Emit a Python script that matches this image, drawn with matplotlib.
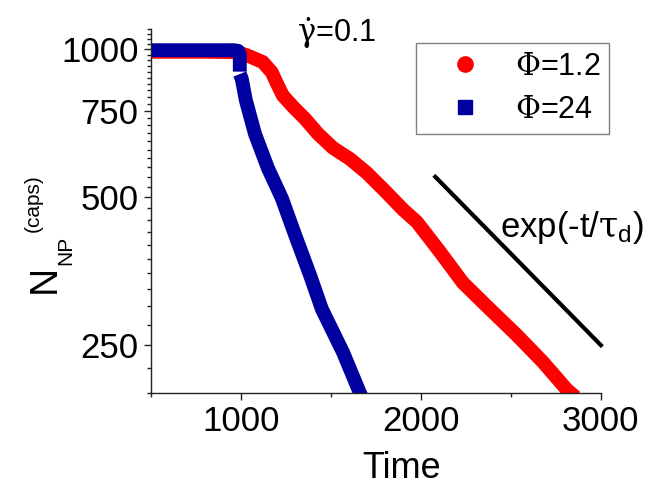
import numpy as np
import matplotlib
matplotlib.use('Agg')
import matplotlib.pyplot as plt
from matplotlib.lines import Line2D
from matplotlib.ticker import FixedLocator, NullFormatter

plt.rcParams['font.family'] = ['Liberation Sans', 'DejaVu Sans']
plt.rcParams['mathtext.fontset'] = 'custom'
plt.rcParams['mathtext.rm'] = 'DejaVu Serif'
plt.rcParams['mathtext.it'] = 'DejaVu Serif'
plt.rcParams['mathtext.sf'] = 'Liberation Sans'

# Phi = 1.2 (red circles)
red_t = [500, 800, 980, 1033, 1122, 1172, 1200, 1233, 1289, 1356, 1428, 1511, 1606,
         1700, 1800, 1900, 1978, 2106, 2233, 2383, 2533, 2678, 2811, 2860]
red_n = [988, 988, 986, 972, 941, 897, 852, 805, 764, 722, 673, 630, 598,
         560, 515, 472, 445, 387, 335, 296, 262, 231, 203, 196]

# Phi = 24 (blue squares), plateau part and decay part
blue_t1 = [500, 960, 985, 994, 994]
blue_n1 = [995, 995, 992, 975, 900]
blue_t2 = [994, 1005, 1028, 1078, 1150, 1228, 1300, 1383, 1450, 1567, 1661, 1690]
blue_n2 = [890, 870, 786, 673, 573, 497, 420, 348, 296, 242, 200, 190]

# exp(-t/tau_d) guide
guide_t = [2080, 3000]
guide_n = [550, 250]

y_major = [250, 500, 750, 1000]
x_major = [1000, 2000, 3000]
x_minor = [500, 1500, 2500]

red = '#ff0000'
blue = '#0000a0'

fig = plt.figure(figsize=(6.56, 4.88), dpi=100)
ax = fig.add_axes([0.230, 0.195, 0.686, 0.746])

ax.plot(red_t, red_n, color=red, lw=10, solid_capstyle='butt', solid_joinstyle='round')
ax.plot(blue_t1, blue_n1, color=blue, lw=10, solid_capstyle='butt', solid_joinstyle='round')
ax.plot(blue_t2, blue_n2, color=blue, lw=10, solid_capstyle='butt', solid_joinstyle='round')
ax.plot(guide_t, guide_n, color='black', lw=3, clip_on=False)

ax.set_yscale('log')
ax.set_xlim(500, 3000)
ax.set_ylim(200, 1100)
ax.yaxis.set_major_locator(FixedLocator(y_major))
ax.set_yticklabels([str(v) for v in y_major])
ax.yaxis.set_minor_locator(FixedLocator([v for v in range(200, 1101, 25) if v not in y_major]))
ax.yaxis.set_minor_formatter(NullFormatter())
ax.set_xticks(x_major)
ax.set_xticks(x_minor, minor=True)

for s in ['top', 'right']:
    ax.spines[s].set_visible(False)
for s in ['left', 'bottom']:
    ax.spines[s].set_linewidth(1.0)
    ax.spines[s].set_color('#222222')

ax.tick_params(which='major', direction='out', length=5, width=1, labelsize=25, pad=4, color='#222222')
ax.tick_params(which='minor', direction='out', length=3, width=1, color='#222222')

ax.set_xlabel('Time', fontsize=26, va='top')
ax.xaxis.set_label_coords(0.558, -0.159)

# y label pieces: N, subscript NP, superscript (caps)
fig.text(45 / 656, 1 - 279 / 488, 'N', fontsize=28, rotation=90, ha='center', va='center')
fig.text(66 / 656, 1 - 250 / 488, 'NP', fontsize=15, rotation=90, ha='center', va='center')
fig.text(33 / 656, 1 - 203 / 488, '(caps)', fontsize=15, rotation=90, ha='center', va='center')

fig.text(297 / 656, 1 - 42 / 488, r'$\dot{\gamma}$=0.1', fontsize=22, va='baseline')
fig.text(500 / 656, 1 - 228 / 488, r'exp(-t/$\tau_{\mathsf{d}}$)', fontsize=25, va='center')

handles = [Line2D([], [], ls='none', marker='o', color=red, markersize=11),
           Line2D([], [], ls='none', marker='s', color=blue, markersize=10)]
leg = fig.legend(handles, [r'$\Phi$=1.2', r'$\Phi$=24'], loc='upper left',
                 bbox_to_anchor=(416 / 656, 1 - 43 / 488), borderaxespad=0,
                 fontsize=22, frameon=True, fancybox=False, framealpha=1,
                 edgecolor='#808080', borderpad=0.3, handlelength=2.6,
                 handletextpad=0.33, labelspacing=0.42)
leg.get_frame().set_linewidth(1.0)

fig.savefig('out.png', dpi=100)
